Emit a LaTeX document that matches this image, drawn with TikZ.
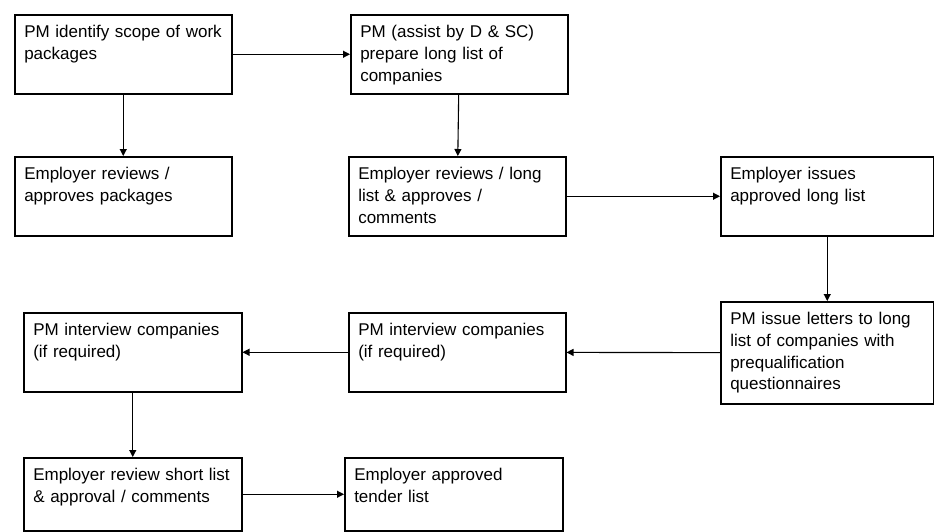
\documentclass[tikz,border=0pt]{standalone}
\usepackage{fontspec}
\setmainfont{Liberation Sans}
\usetikzlibrary{arrows.meta}

\begin{document}
\begin{tikzpicture}[x=1pt,y=-1pt,
  stepbox/.style={draw,line width=1.5pt,anchor=north west,align=left,
    font=\fontsize{17}{21.7}\selectfont,inner xsep=9.5pt,inner ysep=0pt,
    text width=198pt,text height=23pt,text depth=56pt},
  flow/.style={-{Triangle[length=7pt,width=7pt]},line width=1.1pt}]
\useasboundingbox (0,0) rectangle (934,531);

% First row
\node[stepbox] (scope) at (14,14) {PM identify scope of work\\packages};
\node[stepbox] (longList) at (350,14) {PM (assist by D \& SC)\\prepare long list of\\companies};

% Second row
\node[stepbox] (pkgReview) at (14,156) {Employer reviews /\\approves packages};
\node[stepbox] (listReview) at (348,156) {Employer reviews / long\\list \& approves /\\comments};
\node[stepbox,text width=194pt] (issueList) at (720,156) {Employer issues\\approved long list};

% Third row
\node[stepbox,text width=194pt,text depth=79pt] (letters) at (720,301) {PM issue letters to long\\list of companies with\\prequalification\\questionnaires};
\node[stepbox] (interviewMid) at (348,312) {PM interview companies\\(if required)};
\node[stepbox,text width=199pt] (interviewLeft) at (23,312) {PM interview companies\\(if required)};

% Last row
\node[stepbox,text width=199pt,text depth=50pt] (shortList) at (23,457) {Employer review short list\\\& approval / comments};
\node[stepbox,text width=199pt,text depth=50pt] (tenderList) at (344,457) {Employer approved\\tender list};

% Connections
\draw[flow] (scope) -- (longList);
\draw[flow] (scope) -- (pkgReview);
\draw[flow] (longList) -- (listReview);
\draw[flow] (listReview) -- (issueList);
\draw[flow] (issueList) -- (letters);
\draw[flow] (letters) -- (interviewMid);
\draw[flow] (interviewMid) -- (interviewLeft);
\draw[flow] (interviewLeft) -- (shortList);
\draw[flow] (shortList) -- (tenderList);
\end{tikzpicture}
\end{document}
